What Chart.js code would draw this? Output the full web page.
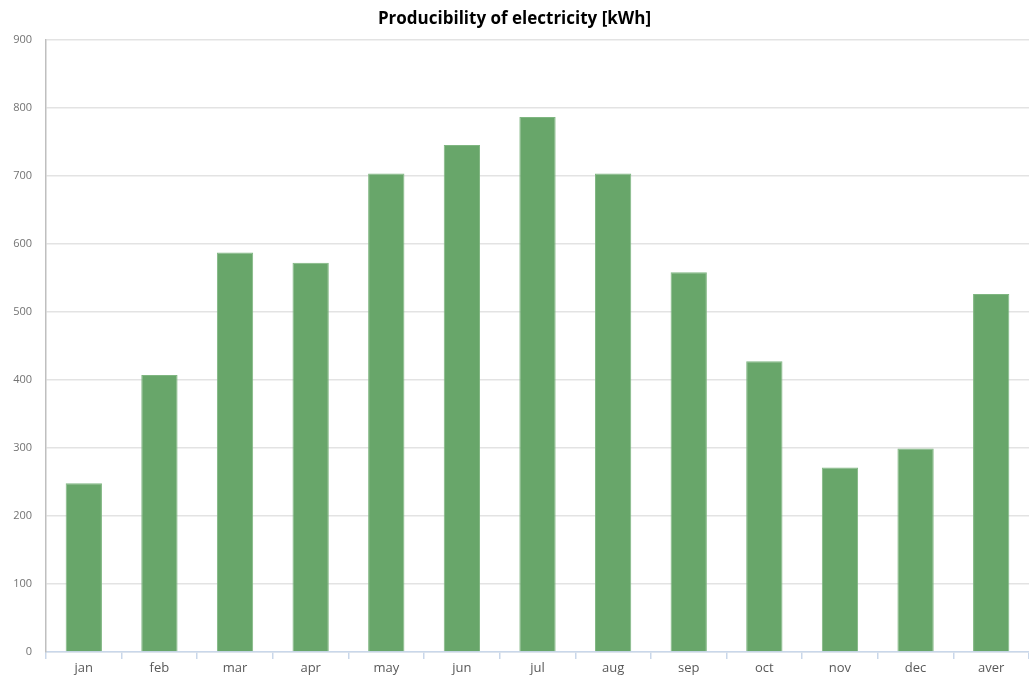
<!DOCTYPE html>
<html>
<head>
<meta charset="utf-8">
<script src="https://cdn.jsdelivr.net/npm/chart.js@4/dist/chart.umd.min.js"></script>
<style>
    html, body { margin: 0; padding: 0; background: #ffffff; }
    #wrap { width: 1029px; height: 675px; }
</style>
</head>
<body>
<div id="wrap"><canvas id="prodChart"></canvas></div>
<script>
// monthly producibility, plus the yearly average as last column
const months = ['jan', 'feb', 'mar', 'apr', 'may', 'jun', 'jul', 'aug', 'sep', 'oct', 'nov', 'dec', 'aver'];
const energyKwh = [248, 407, 587, 572, 703, 745, 786, 703, 558, 427, 271, 299, 526];
const yTicks = [0, 100, 200, 300, 400, 500, 600, 700, 800, 900];

const ctx = document.getElementById('prodChart').getContext('2d');

new Chart(ctx, {
    type: 'bar',
    data: {
        labels: months,
        datasets: [{
            label: 'Producibility',
            data: energyKwh,
            backgroundColor: '#68a66a',
            borderColor: '#7fb681',
            borderWidth: 1,
            barPercentage: 0.48,
            categoryPercentage: 1.0
        }]
    },
    options: {
        responsive: true,
        maintainAspectRatio: false,
        animation: false,
        layout: { padding: { top: 0, right: 0, bottom: 0, left: 0 } },
        scales: {
            x: {
                offset: true,
                grid: {
                    offset: true,
                    drawOnChartArea: false,
                    drawTicks: true,
                    tickLength: 7,
                    color: '#c9d7ea',
                    lineWidth: 1.5
                },
                border: { color: '#c9d7ea', width: 1.5 },
                ticks: {
                    color: '#595959',
                    font: { family: 'Open Sans', size: 13 },
                    padding: 1
                },
                afterFit: (scale) => { scale.height = 23; }
            },
            y: {
                min: 0,
                max: 900,
                afterBuildTicks: (scale) => { scale.ticks = yTicks.map(v => ({ value: v })); },
                grid: {
                    color: '#e3e3e3',
                    lineWidth: 1.5,
                    drawTicks: false
                },
                border: { color: '#bfbfbf', width: 1.5 },
                ticks: {
                    color: '#737373',
                    font: { family: 'Open Sans', size: 11 },
                    padding: 14
                },
                afterFit: (scale) => { scale.width = 46; }
            }
        },
        plugins: {
            legend: { display: false },
            tooltip: { enabled: false },
            title: {
                display: true,
                text: 'Producibility of electricity [kWh]',
                color: '#000000',
                font: { family: 'Open Sans', size: 17, weight: 'bold' },
                padding: { top: 9, bottom: 10 }
            }
        }
    }
});
</script>
</body>
</html>
